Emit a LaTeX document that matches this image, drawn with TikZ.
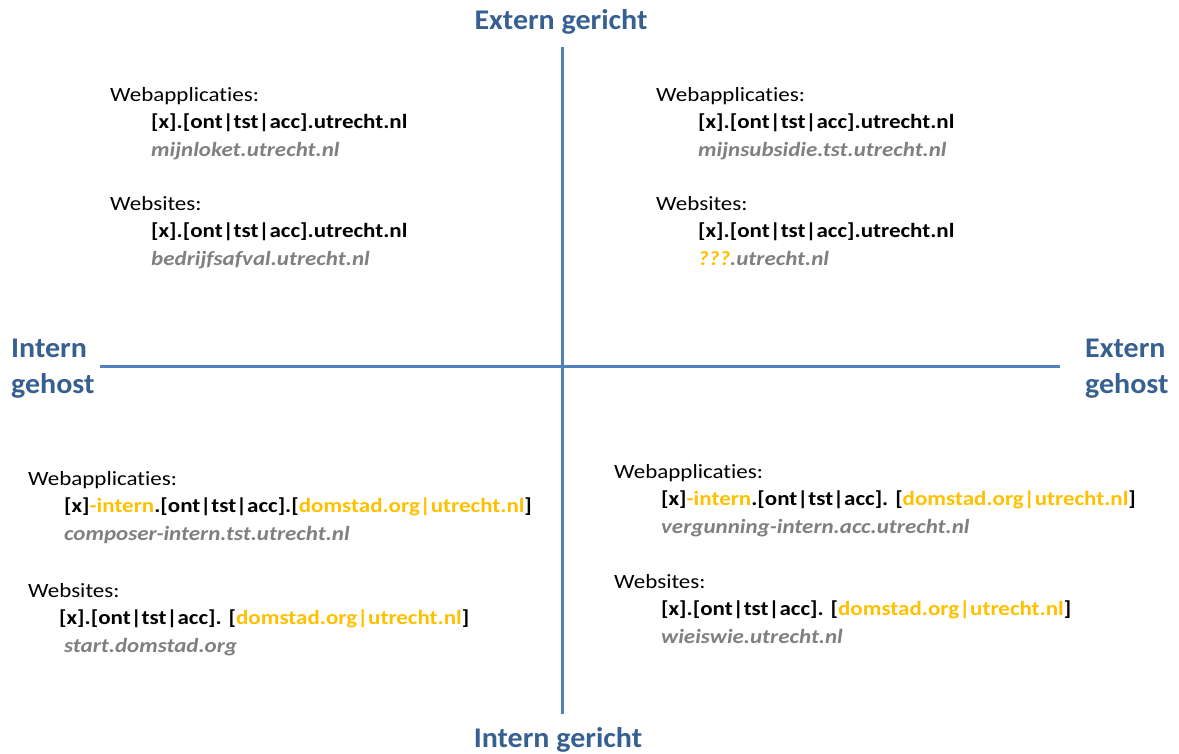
\documentclass[tikz,border=0pt]{standalone}
\usepackage{fontspec}
\setmainfont{Carlito}[Ligatures=NoCommon]

\definecolor{axisblue}{HTML}{4F81BD}
\definecolor{titleblue}{HTML}{376092}
\definecolor{domgold}{HTML}{FFC000}
\definecolor{samplegray}{HTML}{808080}

\newcommand{\gold}[1]{\textcolor{domgold}{#1}}

\def\gap{27.5}

\tikzset{
 axis/.style={draw=axisblue, line width=3pt},
 axislabel/.style={inner sep=0pt, align=left, text=titleblue, yscale=.95,
  font=\fontsize{30}{37}\selectfont\bfseries},
 kind/.style={anchor=base west, inner sep=0pt, yscale=.88, font=\fontsize{23}{27}\selectfont},
 pattern/.style={kind, font=\fontsize{23}{27}\selectfont\bfseries},
 sample/.style={kind, text=samplegray, font=\fontsize{23}{27}\selectfont\bfseries\itshape}
}

\begin{document}
\begin{tikzpicture}[x=1pt,y=-1pt]
 \useasboundingbox (0,0) rectangle (1179,753);
 % Axes
 \coordinate (top) at (562,47);
 \coordinate (bottom) at (562,714);
 \coordinate (left) at (100,366);
 \coordinate (right) at (1060,366);
 \draw[axis] (top) -- (bottom);
 \draw[axis] (left) -- (right);
 % Axis labels
 \node[axislabel, anchor=base] (externgericht) at (561,29) {Extern gericht};
 \node[axislabel, anchor=base] (interngericht) at (558,747) {Intern gericht};
 \node[axislabel, anchor=base west] (interngehost) at (11,393) {Intern\\gehost};
 \node[axislabel, anchor=base west] (externgehost) at (1085,393) {Extern\\gehost};
 % Upper left: intern gehost, extern gericht
 \node[kind] (ulweb) at (110,101) {Webapplicaties:};
 \node[pattern] (ulwebpat) at (151,101+\gap) {[x].[ont|tst|acc].utrecht.nl};
 \node[sample] (ulwebex) at (151,101+2*\gap) {mijnloket.utrecht.nl};
 \node[kind] (ulsite) at (110,210) {Websites:};
 \node[pattern] (ulsitepat) at (151,210+\gap) {[x].[ont|tst|acc].utrecht.nl};
 \node[sample] (ulsiteex) at (151,210+2*\gap) {bedrijfsafval.utrecht.nl};
 % Upper right: extern gehost, extern gericht
 \node[kind] (urweb) at (656,101) {Webapplicaties:};
 \node[pattern] (urwebpat) at (698,101+\gap) {[x].[ont|tst|acc].utrecht.nl};
 \node[sample] (urwebex) at (698,101+2*\gap) {mijnsubsidie.tst.utrecht.nl};
 \node[kind] (ursite) at (656,210) {Websites:};
 \node[pattern] (ursitepat) at (698,210+\gap) {[x].[ont|tst|acc].utrecht.nl};
 \node[sample] (ursiteex) at (698,210+2*\gap) {\gold{???}.utrecht.nl};
 % Lower left: intern gehost, intern gericht
 \node[kind] (llweb) at (28,485) {Webapplicaties:};
 \node[pattern] (llwebpat) at (64,485+\gap) {[x]\gold{-intern}.[ont|tst|acc].[\gold{domstad.org|utrecht.nl}]};
 \node[sample] (llwebex) at (64,485+2*\gap) {composer-intern.tst.utrecht.nl};
 \node[kind] (llsite) at (28,597) {Websites:};
 \node[pattern] (llsitepat) at (59,597+\gap) {[x].[ont|tst|acc]. [\gold{domstad.org|utrecht.nl}]};
 \node[sample] (llsiteex) at (64,597+2*\gap) {start.domstad.org};
 % Lower right: extern gehost, intern gericht
 \node[kind] (lrweb) at (614,478) {Webapplicaties:};
 \node[pattern] (lrwebpat) at (661,478+\gap) {[x]\gold{-intern}.[ont|tst|acc]. [\gold{domstad.org|utrecht.nl}]};
 \node[sample] (lrwebex) at (661,478+2*\gap) {vergunning-intern.acc.utrecht.nl};
 \node[kind] (lrsite) at (614,588) {Websites:};
 \node[pattern] (lrsitepat) at (661,588+\gap) {[x].[ont|tst|acc]. [\gold{domstad.org|utrecht.nl}]};
 \node[sample] (lrsiteex) at (661,588+2*\gap) {wieiswie.utrecht.nl};
\end{tikzpicture}
\end{document}
